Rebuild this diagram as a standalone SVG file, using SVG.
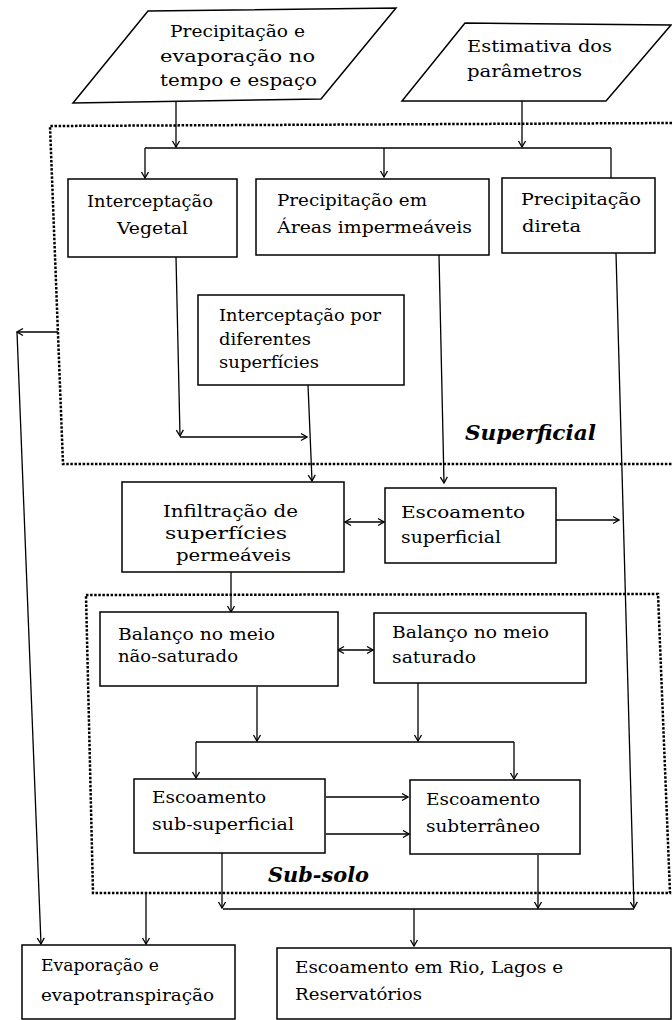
<svg xmlns="http://www.w3.org/2000/svg" width="672" height="1020" viewBox="0 0 672 1020">
<style>
.t{font-family:"DejaVu Serif","Liberation Serif",serif;font-size:16px;fill:#000}
.lab{font-family:"DejaVu Serif","Liberation Serif",serif;font-size:21px;font-weight:bold;font-style:italic;fill:#000}
.box{fill:#fff;stroke:#000;stroke-width:1.5}
.dot{fill:none;stroke:#000;stroke-width:2.5;stroke-dasharray:2.5 1.6}
.c{fill:none;stroke:#000;stroke-width:1.3}
.ar{marker-end:url(#ah)}
.dbl{marker-end:url(#ah);marker-start:url(#ah)}
</style>
<defs>
<marker id="ah" markerWidth="10" markerHeight="10" refX="9" refY="5" orient="auto-start-reverse" markerUnits="userSpaceOnUse">
<path d="M3,1.5 L9,5 L3,8.5" fill="none" stroke="#000" stroke-width="1.3"/>
</marker>
</defs>
<rect width="672" height="1020" fill="#fff"/>

<g id="regions">
<polyline class="dot" points="672,123 50,126 63,464 672,464"/>
<polygon class="dot" points="86,595 658,594 670,893 93,893"/>
<text class="lab" x="465" y="440" textLength="131" lengthAdjust="spacingAndGlyphs">Superficial</text>
<text class="lab" x="268" y="882" textLength="101" lengthAdjust="spacingAndGlyphs">Sub-solo</text>
</g>

<g id="connectors">
<path class="c ar" d="M176,101 V147"/>
<path class="c ar" d="M522,101 V147"/>
<path class="c" d="M145,148 H611"/>
<path class="c ar" d="M145,148 V178"/>
<path class="c ar" d="M384,148 V177"/>
<path class="c" d="M611,148 V178"/>
<path class="c ar" d="M176,257 L180,436"/>
<path class="c ar" d="M180,437 H307"/>
<path class="c ar" d="M308,385 L312,481"/>
<path class="c ar" d="M439,255 L444,483"/>
<path class="c ar" d="M616,253 L634,908"/>
<path class="c ar" d="M58,332 H17"/>
<path class="c ar" d="M17,332 L41,944"/>
<path class="c dbl" d="M345,522 H384"/>
<path class="c ar" d="M556,520 H619"/>
<path class="c ar" d="M231,572 V612"/>
<path class="c dbl" d="M338,650 H373"/>
<path class="c ar" d="M257,687 V741"/>
<path class="c ar" d="M418,683 V741"/>
<path class="c" d="M196,742 H514"/>
<path class="c ar" d="M196,742 V778"/>
<path class="c ar" d="M514,742 V779"/>
<path class="c ar" d="M326,797 H408"/>
<path class="c ar" d="M326,834 H409"/>
<path class="c ar" d="M222,853 V908"/>
<path class="c ar" d="M538,855 V908"/>
<path class="c" d="M223,909 H634"/>
<path class="c ar" d="M414,909 V946"/>
<path class="c ar" d="M146,893 V944"/>
</g>

<g id="n1">
<polygon class="box" points="148,11 396,8 321,99 73,103"/>
<text class="t" x="170" y="37" textLength="135" lengthAdjust="spacingAndGlyphs">Precipitação e</text>
<text class="t" x="160" y="62" textLength="155" lengthAdjust="spacingAndGlyphs">evaporação no</text>
<text class="t" x="160" y="86" textLength="157" lengthAdjust="spacingAndGlyphs">tempo e espaço</text>
</g>
<g id="n2">
<polygon class="box" points="465,23 671,25 606,101 402,101"/>
<text class="t" x="467" y="52" textLength="145" lengthAdjust="spacingAndGlyphs">Estimativa dos</text>
<text class="t" x="467" y="77" textLength="115" lengthAdjust="spacingAndGlyphs">parâmetros</text>
</g>
<g id="n3">
<rect class="box" x="68" y="179" width="169" height="78"/>
<text class="t" x="87" y="207" textLength="126" lengthAdjust="spacingAndGlyphs">Interceptação</text>
<text class="t" x="117" y="234" textLength="71" lengthAdjust="spacingAndGlyphs">Vegetal</text>
</g>
<g id="n4">
<rect class="box" x="256" y="179" width="233" height="76"/>
<text class="t" x="277" y="206" textLength="150" lengthAdjust="spacingAndGlyphs">Precipitação em</text>
<text class="t" x="277" y="233" textLength="195" lengthAdjust="spacingAndGlyphs">Áreas impermeáveis</text>
</g>
<g id="n5">
<rect class="box" x="502" y="178" width="153" height="75"/>
<text class="t" x="521" y="205" textLength="120" lengthAdjust="spacingAndGlyphs">Precipitação</text>
<text class="t" x="522" y="232" textLength="59" lengthAdjust="spacingAndGlyphs">direta</text>
</g>
<g id="n6">
<rect class="box" x="198" y="295" width="206" height="90"/>
<text class="t" x="219" y="321" textLength="162" lengthAdjust="spacingAndGlyphs">Interceptação por</text>
<text class="t" x="219" y="345" textLength="92" lengthAdjust="spacingAndGlyphs">diferentes</text>
<text class="t" x="219" y="368" textLength="100" lengthAdjust="spacingAndGlyphs">superfícies</text>
</g>
<g id="n7">
<rect class="box" x="122" y="482" width="222" height="90"/>
<text class="t" x="163" y="517" textLength="135" lengthAdjust="spacingAndGlyphs">Infiltração de</text>
<text class="t" x="165" y="539" textLength="122" lengthAdjust="spacingAndGlyphs">superfícies</text>
<text class="t" x="176" y="561" textLength="115" lengthAdjust="spacingAndGlyphs">permeáveis</text>
</g>
<g id="n8">
<rect class="box" x="385" y="488" width="171" height="75"/>
<text class="t" x="401" y="518" textLength="124" lengthAdjust="spacingAndGlyphs">Escoamento</text>
<text class="t" x="401" y="543" textLength="100" lengthAdjust="spacingAndGlyphs">superficial</text>
</g>
<g id="n9">
<rect class="box" x="100" y="612" width="238" height="74"/>
<text class="t" x="118" y="640" textLength="157" lengthAdjust="spacingAndGlyphs">Balanço no meio</text>
<text class="t" x="118" y="662" textLength="120" lengthAdjust="spacingAndGlyphs">não-saturado</text>
</g>
<g id="n10">
<rect class="box" x="374" y="613" width="212" height="70"/>
<text class="t" x="392" y="638" textLength="157" lengthAdjust="spacingAndGlyphs">Balanço no meio</text>
<text class="t" x="392" y="663" textLength="84" lengthAdjust="spacingAndGlyphs">saturado</text>
</g>
<g id="n11">
<rect class="box" x="134" y="779" width="191" height="74"/>
<text class="t" x="152" y="803" textLength="114" lengthAdjust="spacingAndGlyphs">Escoamento</text>
<text class="t" x="152" y="830" textLength="142" lengthAdjust="spacingAndGlyphs">sub-superficial</text>
</g>
<g id="n12">
<rect class="box" x="410" y="780" width="170" height="74"/>
<text class="t" x="426" y="805" textLength="114" lengthAdjust="spacingAndGlyphs">Escoamento</text>
<text class="t" x="426" y="832" textLength="114" lengthAdjust="spacingAndGlyphs">subterrâneo</text>
</g>
<g id="n13">
<rect class="box" x="22" y="945" width="213" height="74"/>
<text class="t" x="41" y="971" textLength="118" lengthAdjust="spacingAndGlyphs">Evaporação e</text>
<text class="t" x="41" y="1001" textLength="173" lengthAdjust="spacingAndGlyphs">evapotranspiração</text>
</g>
<g id="n14">
<rect class="box" x="277" y="948" width="394" height="71"/>
<text class="t" x="295" y="973" textLength="268" lengthAdjust="spacingAndGlyphs">Escoamento em Rio, Lagos e</text>
<text class="t" x="295" y="1000" textLength="127" lengthAdjust="spacingAndGlyphs">Reservatórios</text>
</g>
</svg>
